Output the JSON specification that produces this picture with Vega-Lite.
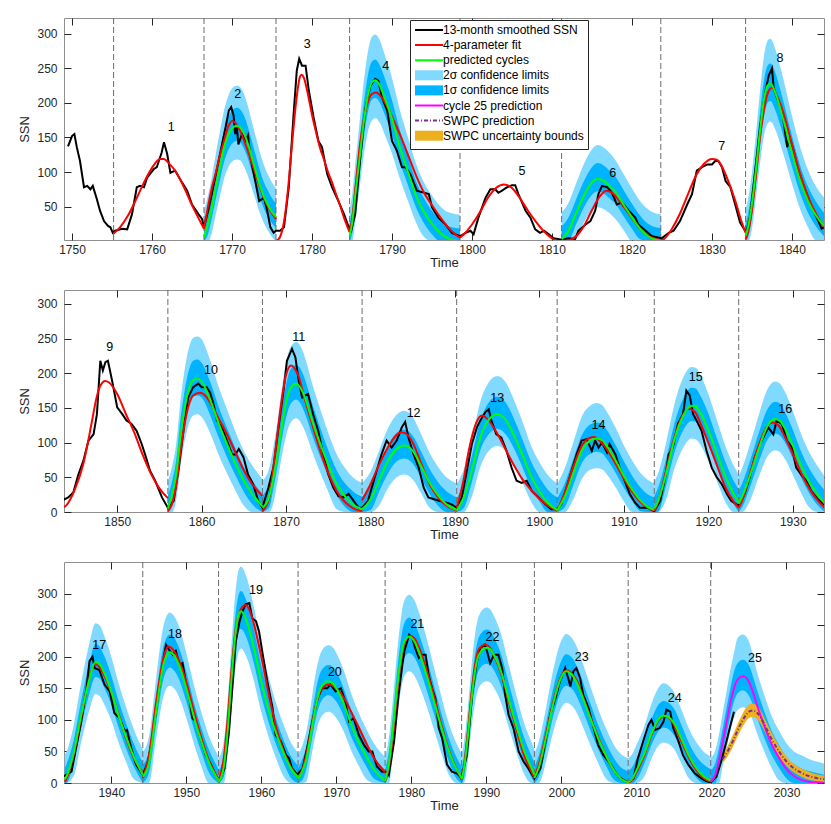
{
"$schema": "https://vega.github.io/schema/vega-lite/v6.json",
"padding": {"left": 18, "top": 17, "right": 9, "bottom": 5},
"spacing": 19,
"datasets": {
"bounds": [{"t":1755.2},{"t":1766.5},{"t":1775.5},{"t":1784.7},{"t":1798.5},{"t":1811.2},{"t":1823.6},{"t":1834.2},{"t":1856.0},{"t":1867.2},{"t":1879.0},{"t":1890.2},{"t":1902.1},{"t":1913.6},{"t":1923.6},{"t":1944.2},{"t":1954.3},{"t":1964.9},{"t":1976.5},{"t":1986.7},{"t":1996.4},{"t":2008.9},{"t":2019.9}],
"labels": [{"n":"1","t":1762.4,"v":165},{"n":"2","t":1770.7,"v":213},{"n":"3","t":1779.4,"v":285},{"n":"4","t":1789.2,"v":254},{"n":"5","t":1806.25,"v":101},{"n":"6","t":1817.6,"v":98},{"n":"7","t":1831.2,"v":138},{"n":"8","t":1838.5,"v":265},{"n":"9","t":1849.1,"v":238},{"n":"10","t":1861.1,"v":205},{"n":"11","t":1871.5,"v":252},{"n":"12","t":1885.1,"v":143},{"n":"13","t":1895.0,"v":165},{"n":"14","t":1907.0,"v":126},{"n":"15","t":1918.5,"v":194},{"n":"16","t":1929.1,"v":148},{"n":"17","t":1938.4,"v":218},{"n":"18","t":1948.5,"v":236},{"n":"19","t":1959.3,"v":305},{"n":"20","t":1969.8,"v":176},{"n":"21","t":1980.8,"v":252},{"n":"22","t":1990.8,"v":232},{"n":"23","t":2002.7,"v":199},{"n":"24","t":2015.1,"v":134},{"n":"25","t":2025.8,"v":198}],
"ssn": [{"t":1749.5,"v":137},{"t":1750,"v":152},{"t":1750.3,"v":155},{"t":1750.6,"v":136},{"t":1751,"v":116},{"t":1751.5,"v":78},{"t":1751.9,"v":80},{"t":1752.3,"v":75},{"t":1752.6,"v":80},{"t":1753.1,"v":61},{"t":1753.5,"v":44},{"t":1754,"v":29},{"t":1754.5,"v":22},{"t":1754.8,"v":20},{"t":1755.1,"v":12},{"t":1755.4,"v":15},{"t":1756.25,"v":18},{"t":1756.9,"v":17},{"t":1757.5,"v":39},{"t":1758.1,"v":78},{"t":1758.5,"v":80},{"t":1759,"v":78},{"t":1759.4,"v":92},{"t":1760.2,"v":104},{"t":1760.6,"v":107},{"t":1761.2,"v":128},{"t":1761.5,"v":143},{"t":1761.9,"v":126},{"t":1762.3,"v":99},{"t":1762.9,"v":102},{"t":1763.75,"v":85},{"t":1764.4,"v":73},{"t":1765,"v":53},{"t":1765.8,"v":39},{"t":1766.25,"v":32},{"t":1766.5,"v":20},{"t":1767.1,"v":48},{"t":1767.9,"v":92},{"t":1768.5,"v":126},{"t":1769.2,"v":165},{"t":1769.6,"v":189},{"t":1769.9,"v":194},{"t":1770.2,"v":182},{"t":1770.4,"v":155},{"t":1770.6,"v":165},{"t":1770.8,"v":140},{"t":1771.25,"v":155},{"t":1771.7,"v":145},{"t":1772,"v":153},{"t":1772.3,"v":121},{"t":1772.9,"v":87},{"t":1773.4,"v":58},{"t":1774,"v":63},{"t":1774.4,"v":44},{"t":1774.8,"v":20},{"t":1775.2,"v":12},{"t":1775.5,"v":15},{"t":1776,"v":15},{"t":1776.5,"v":20},{"t":1777.1,"v":78},{"t":1777.7,"v":184},{"t":1778.1,"v":247},{"t":1778.4,"v":264},{"t":1778.75,"v":254},{"t":1779.2,"v":254},{"t":1779.6,"v":218},{"t":1780.2,"v":179},{"t":1780.8,"v":145},{"t":1781.25,"v":136},{"t":1781.9,"v":97},{"t":1782.5,"v":78},{"t":1783.3,"v":58},{"t":1784,"v":39},{"t":1784.6,"v":20},{"t":1784.9,"v":15},{"t":1785.4,"v":39},{"t":1786,"v":116},{"t":1786.7,"v":194},{"t":1787.3,"v":225},{"t":1787.9,"v":235},{"t":1788.3,"v":232},{"t":1788.75,"v":208},{"t":1789.4,"v":189},{"t":1790,"v":145},{"t":1790.6,"v":131},{"t":1791.25,"v":107},{"t":1791.7,"v":107},{"t":1792.3,"v":97},{"t":1793.1,"v":73},{"t":1794.6,"v":68},{"t":1795,"v":49},{"t":1795.8,"v":34},{"t":1796.7,"v":24},{"t":1797.5,"v":12},{"t":1798.5,"v":7},{"t":1799.2,"v":12},{"t":1799.8,"v":15},{"t":1800.2,"v":10},{"t":1800.8,"v":34},{"t":1801.7,"v":63},{"t":1802.3,"v":75},{"t":1802.9,"v":75},{"t":1803.3,"v":70},{"t":1803.75,"v":73},{"t":1804.4,"v":78},{"t":1805,"v":81},{"t":1805.4,"v":81},{"t":1805.8,"v":68},{"t":1806.7,"v":44},{"t":1807.3,"v":34},{"t":1807.9,"v":17},{"t":1808.5,"v":12},{"t":1809,"v":15},{"t":1809.6,"v":10},{"t":1810.2,"v":4},{"t":1811.25,"v":2},{"t":1812.1,"v":4},{"t":1812.9,"v":3},{"t":1813.3,"v":15},{"t":1814.2,"v":24},{"t":1814.8,"v":29},{"t":1815.4,"v":44},{"t":1815.8,"v":68},{"t":1816.25,"v":80},{"t":1816.9,"v":78},{"t":1817.5,"v":70},{"t":1818.1,"v":53},{"t":1818.75,"v":56},{"t":1819.6,"v":44},{"t":1820.4,"v":34},{"t":1820.8,"v":24},{"t":1821.7,"v":15},{"t":1822.5,"v":7},{"t":1823.7,"v":4},{"t":1824.6,"v":12},{"t":1825.2,"v":15},{"t":1826,"v":29},{"t":1826.9,"v":53},{"t":1827.5,"v":68},{"t":1828.1,"v":102},{"t":1828.75,"v":107},{"t":1829.4,"v":111},{"t":1830,"v":111},{"t":1830.4,"v":116},{"t":1830.8,"v":116},{"t":1831.25,"v":107},{"t":1831.7,"v":87},{"t":1832.3,"v":78},{"t":1832.9,"v":53},{"t":1833.5,"v":27},{"t":1834.3,"v":12},{"t":1834.8,"v":39},{"t":1835.4,"v":102},{"t":1836,"v":165},{"t":1836.7,"v":218},{"t":1837.1,"v":240},{"t":1837.5,"v":250},{"t":1837.7,"v":223},{"t":1838.1,"v":208},{"t":1838.75,"v":189},{"t":1839.4,"v":136},{"t":1839.7,"v":150},{"t":1840.2,"v":131},{"t":1840.8,"v":102},{"t":1841.7,"v":73},{"t":1842.5,"v":49},{"t":1843.3,"v":29},{"t":1843.7,"v":18},{"t":1844.2,"v":21},{"t":1844.8,"v":28},{"t":1845.4,"v":54},{"t":1846,"v":74},{"t":1846.6,"v":103},{"t":1847.2,"v":112},{"t":1847.6,"v":141},{"t":1848,"v":218},{"t":1848.3,"v":204},{"t":1848.6,"v":216},{"t":1848.9,"v":218},{"t":1849.4,"v":189},{"t":1850,"v":151},{"t":1850.6,"v":141},{"t":1851.1,"v":132},{"t":1851.7,"v":127},{"t":1852.3,"v":117},{"t":1852.9,"v":98},{"t":1853.3,"v":83},{"t":1853.9,"v":59},{"t":1854.5,"v":45},{"t":1855.3,"v":21},{"t":1856,"v":6},{"t":1856.7,"v":16},{"t":1857.3,"v":64},{"t":1857.9,"v":122},{"t":1858.4,"v":165},{"t":1859,"v":180},{"t":1859.6,"v":185},{"t":1860,"v":180},{"t":1860.6,"v":180},{"t":1861,"v":172},{"t":1861.4,"v":156},{"t":1861.8,"v":132},{"t":1862.4,"v":122},{"t":1863,"v":103},{"t":1863.6,"v":83},{"t":1864,"v":83},{"t":1864.4,"v":91},{"t":1864.95,"v":79},{"t":1865.5,"v":54},{"t":1866.1,"v":40},{"t":1866.7,"v":16},{"t":1867.2,"v":6},{"t":1867.9,"v":35},{"t":1868.5,"v":64},{"t":1869.1,"v":122},{"t":1869.7,"v":175},{"t":1870.1,"v":218},{"t":1870.7,"v":235},{"t":1871.1,"v":223},{"t":1871.5,"v":189},{"t":1871.9,"v":165},{"t":1872.3,"v":168},{"t":1872.6,"v":170},{"t":1873.2,"v":141},{"t":1873.8,"v":117},{"t":1874.4,"v":83},{"t":1875,"v":54},{"t":1875.6,"v":35},{"t":1876.2,"v":23},{"t":1876.8,"v":21},{"t":1877.4,"v":26},{"t":1878,"v":16},{"t":1878.6,"v":6},{"t":1879,"v":6},{"t":1879.7,"v":16},{"t":1880.5,"v":50},{"t":1881.3,"v":83},{"t":1881.9,"v":103},{"t":1882.5,"v":93},{"t":1883.1,"v":103},{"t":1883.7,"v":122},{"t":1884.1,"v":130},{"t":1884.5,"v":107},{"t":1885.1,"v":83},{"t":1885.7,"v":64},{"t":1886.3,"v":35},{"t":1886.85,"v":21},{"t":1887.6,"v":18},{"t":1888.8,"v":14},{"t":1889.6,"v":11},{"t":1890.2,"v":6},{"t":1890.8,"v":21},{"t":1891.4,"v":59},{"t":1892,"v":98},{"t":1892.6,"v":122},{"t":1893,"v":132},{"t":1893.6,"v":144},{"t":1894,"v":148},{"t":1894.3,"v":132},{"t":1894.9,"v":112},{"t":1895.5,"v":107},{"t":1896.1,"v":88},{"t":1896.7,"v":64},{"t":1897.3,"v":45},{"t":1897.9,"v":42},{"t":1898.5,"v":45},{"t":1899.1,"v":30},{"t":1899.9,"v":21},{"t":1900.7,"v":11},{"t":1901.4,"v":4},{"t":1902.1,"v":4},{"t":1902.6,"v":11},{"t":1903.2,"v":35},{"t":1903.8,"v":59},{"t":1904.4,"v":83},{"t":1905,"v":103},{"t":1905.6,"v":105},{"t":1906.2,"v":88},{"t":1906.6,"v":103},{"t":1907,"v":93},{"t":1907.4,"v":100},{"t":1908,"v":86},{"t":1908.3,"v":98},{"t":1909,"v":83},{"t":1909.5,"v":64},{"t":1910.1,"v":45},{"t":1910.7,"v":26},{"t":1911.3,"v":14},{"t":1911.9,"v":6},{"t":1912.9,"v":6},{"t":1913.6,"v":1},{"t":1914.3,"v":16},{"t":1914.9,"v":50},{"t":1915.3,"v":83},{"t":1915.8,"v":93},{"t":1916.4,"v":127},{"t":1917,"v":141},{"t":1917.4,"v":175},{"t":1917.8,"v":168},{"t":1918.2,"v":141},{"t":1918.6,"v":132},{"t":1919.2,"v":117},{"t":1919.8,"v":88},{"t":1920.4,"v":64},{"t":1921,"v":50},{"t":1921.6,"v":40},{"t":1922.2,"v":26},{"t":1922.7,"v":16},{"t":1923.6,"v":9},{"t":1924.3,"v":26},{"t":1924.9,"v":50},{"t":1925.5,"v":79},{"t":1926.1,"v":98},{"t":1926.7,"v":112},{"t":1927.1,"v":122},{"t":1927.7,"v":112},{"t":1928.1,"v":132},{"t":1928.7,"v":127},{"t":1929.3,"v":103},{"t":1929.9,"v":93},{"t":1930.4,"v":64},{"t":1931,"v":54},{"t":1931.6,"v":45},{"t":1932.2,"v":30},{"t":1933,"v":18},{"t":1933.7,"v":11},{"t":1934.7,"v":18},{"t":1935.3,"v":55},{"t":1936,"v":97},{"t":1936.7,"v":150},{"t":1937.1,"v":193},{"t":1937.5,"v":200},{"t":1937.8,"v":182},{"t":1938.4,"v":179},{"t":1939.1,"v":156},{"t":1939.8,"v":145},{"t":1940.4,"v":111},{"t":1941.1,"v":103},{"t":1941.8,"v":82},{"t":1942.1,"v":84},{"t":1942.6,"v":58},{"t":1943.3,"v":29},{"t":1944.2,"v":13},{"t":1944.9,"v":34},{"t":1945.5,"v":74},{"t":1946.2,"v":134},{"t":1946.9,"v":193},{"t":1947.3,"v":219},{"t":1947.7,"v":211},{"t":1948.2,"v":203},{"t":1948.6,"v":209},{"t":1949.1,"v":187},{"t":1949.5,"v":190},{"t":1950,"v":156},{"t":1950.4,"v":134},{"t":1950.8,"v":103},{"t":1951.3,"v":97},{"t":1952,"v":66},{"t":1952.6,"v":44},{"t":1953.3,"v":29},{"t":1953.9,"v":13},{"t":1954.4,"v":3},{"t":1955.1,"v":23},{"t":1955.7,"v":82},{"t":1956.2,"v":161},{"t":1956.6,"v":224},{"t":1957.1,"v":256},{"t":1957.5,"v":272},{"t":1957.9,"v":283},{"t":1958.4,"v":285},{"t":1958.8,"v":261},{"t":1959.3,"v":256},{"t":1959.7,"v":240},{"t":1960.2,"v":203},{"t":1960.8,"v":161},{"t":1961.5,"v":119},{"t":1961.9,"v":76},{"t":1962.6,"v":66},{"t":1963.3,"v":44},{"t":1963.7,"v":39},{"t":1964.1,"v":23},{"t":1964.8,"v":13},{"t":1965.5,"v":23},{"t":1966.1,"v":55},{"t":1966.8,"v":97},{"t":1967.5,"v":134},{"t":1968.1,"v":150},{"t":1968.8,"v":150},{"t":1969.2,"v":156},{"t":1969.9,"v":145},{"t":1970.6,"v":150},{"t":1971.2,"v":129},{"t":1971.7,"v":97},{"t":1972.3,"v":103},{"t":1973,"v":76},{"t":1973.7,"v":60},{"t":1974.3,"v":50},{"t":1974.8,"v":50},{"t":1975.4,"v":26},{"t":1976.1,"v":18},{"t":1976.8,"v":18},{"t":1977,"v":13},{"t":1977.7,"v":66},{"t":1978.3,"v":140},{"t":1978.8,"v":187},{"t":1979.1,"v":210},{"t":1979.7,"v":235},{"t":1980.1,"v":230},{"t":1980.5,"v":214},{"t":1981,"v":198},{"t":1981.4,"v":203},{"t":1981.9,"v":203},{"t":1982.3,"v":171},{"t":1982.76,"v":150},{"t":1983.2,"v":134},{"t":1983.65,"v":87},{"t":1984.1,"v":71},{"t":1984.75,"v":29},{"t":1985.4,"v":18},{"t":1986.1,"v":15},{"t":1986.66,"v":8},{"t":1987.4,"v":44},{"t":1988.1,"v":140},{"t":1988.75,"v":193},{"t":1989.2,"v":214},{"t":1989.8,"v":219},{"t":1990.1,"v":208},{"t":1990.5,"v":190},{"t":1991,"v":203},{"t":1991.6,"v":203},{"t":1992.1,"v":182},{"t":1992.5,"v":140},{"t":1992.95,"v":108},{"t":1993.6,"v":87},{"t":1994.3,"v":50},{"t":1994.95,"v":34},{"t":1995.6,"v":23},{"t":1996.4,"v":7},{"t":1997.2,"v":23},{"t":1997.8,"v":60},{"t":1998.5,"v":108},{"t":1999.2,"v":134},{"t":1999.8,"v":161},{"t":2000.5,"v":182},{"t":2000.9,"v":166},{"t":2001.2,"v":153},{"t":2001.6,"v":177},{"t":2002,"v":182},{"t":2002.5,"v":166},{"t":2002.9,"v":140},{"t":2003.6,"v":119},{"t":2004.3,"v":87},{"t":2004.9,"v":60},{"t":2005.6,"v":44},{"t":2006.3,"v":34},{"t":2006.9,"v":23},{"t":2007.6,"v":10},{"t":2008.25,"v":5},{"t":2008.9,"v":1},{"t":2009.6,"v":7},{"t":2010.2,"v":39},{"t":2010.9,"v":66},{"t":2011.6,"v":92},{"t":2012,"v":100},{"t":2012.5,"v":84},{"t":2013.1,"v":87},{"t":2013.6,"v":97},{"t":2014,"v":116},{"t":2014.5,"v":113},{"t":2014.9,"v":87},{"t":2015.6,"v":66},{"t":2016.2,"v":44},{"t":2016.9,"v":29},{"t":2017.8,"v":15},{"t":2018.7,"v":7},{"t":2019.3,"v":3},{"t":2019.9,"v":1},{"t":2020.66,"v":10},{"t":2021.3,"v":34},{"t":2022,"v":66},{"t":2022.65,"v":97},{"t":2023,"v":113}],
"fit": [
{"c":1,"t":1755.2,"v":11},{"c":1,"t":1756,"v":20},{"c":1,"t":1757,"v":37},{"c":1,"t":1758,"v":60},{"c":1,"t":1759,"v":85},{"c":1,"t":1760,"v":106},{"c":1,"t":1761,"v":119},{"c":1,"t":1761.5,"v":119},{"c":1,"t":1762,"v":114},{"c":1,"t":1763,"v":100},{"c":1,"t":1764,"v":78},{"c":1,"t":1765,"v":52},{"c":1,"t":1766,"v":29},{"c":1,"t":1766.5,"v":18},
{"c":2,"t":1766.5,"v":18},{"c":2,"t":1767,"v":50},{"c":2,"t":1767.5,"v":78},{"c":2,"t":1768,"v":100},{"c":2,"t":1768.5,"v":125},{"c":2,"t":1769,"v":145},{"c":2,"t":1769.5,"v":165},{"c":2,"t":1770,"v":174},{"c":2,"t":1770.5,"v":170},{"c":2,"t":1771,"v":160},{"c":2,"t":1772,"v":130},{"c":2,"t":1773,"v":95},{"c":2,"t":1774,"v":62},{"c":2,"t":1775,"v":40},{"c":2,"t":1775.5,"v":32},
{"c":3,"t":1775.5,"v":0},{"c":3,"t":1776,"v":6},{"c":3,"t":1776.5,"v":28},{"c":3,"t":1777,"v":75},{"c":3,"t":1777.5,"v":140},{"c":3,"t":1778,"v":200},{"c":3,"t":1778.5,"v":238},{"c":3,"t":1778.7,"v":241},{"c":3,"t":1779,"v":236},{"c":3,"t":1779.5,"v":212},{"c":3,"t":1780,"v":183},{"c":3,"t":1780.5,"v":158},{"c":3,"t":1781,"v":135},{"c":3,"t":1781.5,"v":118},{"c":3,"t":1782,"v":100},{"c":3,"t":1782.5,"v":85},{"c":3,"t":1783,"v":68},{"c":3,"t":1783.5,"v":52},{"c":3,"t":1784,"v":34},{"c":3,"t":1784.7,"v":13},
{"c":4,"t":1784.7,"v":14},{"c":4,"t":1785,"v":30},{"c":4,"t":1785.5,"v":85},{"c":4,"t":1786,"v":140},{"c":4,"t":1786.5,"v":178},{"c":4,"t":1787,"v":202},{"c":4,"t":1787.5,"v":213},{"c":4,"t":1788,"v":215},{"c":4,"t":1789,"v":203},{"c":4,"t":1790,"v":180},{"c":4,"t":1791,"v":154},{"c":4,"t":1792,"v":125},{"c":4,"t":1793,"v":95},{"c":4,"t":1794,"v":70},{"c":4,"t":1795,"v":52},{"c":4,"t":1796,"v":35},{"c":4,"t":1797,"v":20},{"c":4,"t":1798,"v":9},{"c":4,"t":1798.5,"v":5},
{"c":5,"t":1798.5,"v":5},{"c":5,"t":1799,"v":10},{"c":5,"t":1800,"v":24},{"c":5,"t":1801,"v":42},{"c":5,"t":1802,"v":63},{"c":5,"t":1803,"v":77},{"c":5,"t":1804,"v":82},{"c":5,"t":1805,"v":77},{"c":5,"t":1806,"v":62},{"c":5,"t":1807,"v":44},{"c":5,"t":1808,"v":28},{"c":5,"t":1809,"v":14},{"c":5,"t":1810,"v":4},{"c":5,"t":1810.5,"v":1},{"c":5,"t":1811.2,"v":0},
{"c":6,"t":1811.2,"v":0},{"c":6,"t":1812,"v":1},{"c":6,"t":1813,"v":7},{"c":6,"t":1814,"v":22},{"c":6,"t":1815,"v":45},{"c":6,"t":1816,"v":65},{"c":6,"t":1816.8,"v":73},{"c":6,"t":1817.5,"v":70},{"c":6,"t":1818,"v":64},{"c":6,"t":1819,"v":49},{"c":6,"t":1820,"v":33},{"c":6,"t":1821,"v":18},{"c":6,"t":1822,"v":8},{"c":6,"t":1823,"v":3},{"c":6,"t":1823.6,"v":1},
{"c":7,"t":1823.6,"v":0},{"c":7,"t":1824,"v":3},{"c":7,"t":1825,"v":18},{"c":7,"t":1826,"v":40},{"c":7,"t":1827,"v":68},{"c":7,"t":1828,"v":95},{"c":7,"t":1829,"v":112},{"c":7,"t":1830,"v":119},{"c":7,"t":1830.6,"v":118},{"c":7,"t":1831,"v":113},{"c":7,"t":1832,"v":88},{"c":7,"t":1833,"v":55},{"c":7,"t":1833.7,"v":28},{"c":7,"t":1834.2,"v":12},
{"c":8,"t":1834.2,"v":3},{"c":8,"t":1834.5,"v":12},{"c":8,"t":1835,"v":45},{"c":8,"t":1835.5,"v":95},{"c":8,"t":1836,"v":150},{"c":8,"t":1836.5,"v":190},{"c":8,"t":1837,"v":215},{"c":8,"t":1837.5,"v":222},{"c":8,"t":1838,"v":213},{"c":8,"t":1838.5,"v":200},{"c":8,"t":1839,"v":183},{"c":8,"t":1840,"v":140},{"c":8,"t":1841,"v":98},{"c":8,"t":1842,"v":64},{"c":8,"t":1843,"v":40},{"c":8,"t":1844,"v":20},
{"c":9,"t":1843.7,"v":7},{"c":9,"t":1844,"v":10},{"c":9,"t":1845,"v":33},{"c":9,"t":1846,"v":70},{"c":9,"t":1847,"v":130},{"c":9,"t":1847.5,"v":162},{"c":9,"t":1848,"v":182},{"c":9,"t":1848.6,"v":189},{"c":9,"t":1849,"v":187},{"c":9,"t":1850,"v":170},{"c":9,"t":1851,"v":142},{"c":9,"t":1852,"v":115},{"c":9,"t":1853,"v":83},{"c":9,"t":1854,"v":55},{"c":9,"t":1855,"v":34},{"c":9,"t":1856,"v":20},
{"c":10,"t":1856,"v":1},{"c":10,"t":1856.5,"v":12},{"c":10,"t":1857,"v":40},{"c":10,"t":1857.5,"v":88},{"c":10,"t":1858,"v":128},{"c":10,"t":1858.5,"v":155},{"c":10,"t":1859,"v":168},{"c":10,"t":1859.8,"v":172},{"c":10,"t":1860.5,"v":167},{"c":10,"t":1861,"v":158},{"c":10,"t":1862,"v":135},{"c":10,"t":1863,"v":112},{"c":10,"t":1864,"v":86},{"c":10,"t":1865,"v":60},{"c":10,"t":1866,"v":40},{"c":10,"t":1867.2,"v":23},
{"c":11,"t":1867.2,"v":1},{"c":11,"t":1868,"v":20},{"c":11,"t":1868.5,"v":65},{"c":11,"t":1869,"v":115},{"c":11,"t":1869.5,"v":163},{"c":11,"t":1870,"v":198},{"c":11,"t":1870.6,"v":211},{"c":11,"t":1871,"v":207},{"c":11,"t":1871.5,"v":195},{"c":11,"t":1872,"v":172},{"c":11,"t":1873,"v":130},{"c":11,"t":1874,"v":90},{"c":11,"t":1875,"v":56},{"c":11,"t":1876,"v":30},{"c":11,"t":1877,"v":14},{"c":11,"t":1878,"v":5},{"c":11,"t":1879,"v":1},
{"c":12,"t":1879,"v":17},{"c":12,"t":1880,"v":40},{"c":12,"t":1881,"v":68},{"c":12,"t":1882,"v":92},{"c":12,"t":1883,"v":110},{"c":12,"t":1883.6,"v":115},{"c":12,"t":1884.2,"v":113},{"c":12,"t":1885,"v":100},{"c":12,"t":1886,"v":70},{"c":12,"t":1887,"v":40},{"c":12,"t":1888,"v":21},{"c":12,"t":1889,"v":9},{"c":12,"t":1890.2,"v":2},
{"c":13,"t":1890.2,"v":6},{"c":13,"t":1891,"v":45},{"c":13,"t":1891.5,"v":80},{"c":13,"t":1892,"v":108},{"c":13,"t":1892.5,"v":128},{"c":13,"t":1893.2,"v":139},{"c":13,"t":1894,"v":132},{"c":13,"t":1895,"v":113},{"c":13,"t":1896,"v":90},{"c":13,"t":1897,"v":67},{"c":13,"t":1898,"v":47},{"c":13,"t":1899,"v":32},{"c":13,"t":1900,"v":19},{"c":13,"t":1901,"v":9},{"c":13,"t":1902.1,"v":2},
{"c":14,"t":1902.1,"v":2},{"c":14,"t":1903,"v":28},{"c":14,"t":1904,"v":65},{"c":14,"t":1905,"v":95},{"c":14,"t":1906,"v":107},{"c":14,"t":1906.5,"v":108},{"c":14,"t":1907,"v":104},{"c":14,"t":1908,"v":90},{"c":14,"t":1909,"v":70},{"c":14,"t":1910,"v":48},{"c":14,"t":1911,"v":29},{"c":14,"t":1912,"v":14},{"c":14,"t":1913,"v":5},{"c":14,"t":1913.6,"v":2},
{"c":15,"t":1913.6,"v":1},{"c":15,"t":1914,"v":12},{"c":15,"t":1915,"v":60},{"c":15,"t":1916,"v":108},{"c":15,"t":1917,"v":140},{"c":15,"t":1917.7,"v":149},{"c":15,"t":1918.5,"v":143},{"c":15,"t":1919,"v":130},{"c":15,"t":1920,"v":100},{"c":15,"t":1921,"v":68},{"c":15,"t":1922,"v":36},{"c":15,"t":1923,"v":15},{"c":15,"t":1923.6,"v":6},
{"c":16,"t":1923.6,"v":6},{"c":16,"t":1924,"v":16},{"c":16,"t":1925,"v":58},{"c":16,"t":1926,"v":97},{"c":16,"t":1927,"v":124},{"c":16,"t":1927.6,"v":129},{"c":16,"t":1928.3,"v":125},{"c":16,"t":1929,"v":110},{"c":16,"t":1930,"v":84},{"c":16,"t":1931,"v":56},{"c":16,"t":1932,"v":33},{"c":16,"t":1933,"v":16},{"c":16,"t":1933.8,"v":6},
{"c":17,"t":1933.8,"v":2},{"c":17,"t":1934,"v":6},{"c":17,"t":1935,"v":45},{"c":17,"t":1936,"v":105},{"c":17,"t":1937,"v":162},{"c":17,"t":1937.8,"v":188},{"c":17,"t":1938.5,"v":182},{"c":17,"t":1939,"v":172},{"c":17,"t":1940,"v":143},{"c":17,"t":1941,"v":108},{"c":17,"t":1942,"v":70},{"c":17,"t":1943,"v":40},{"c":17,"t":1944.2,"v":15},
{"c":18,"t":1944.2,"v":8},{"c":18,"t":1945,"v":42},{"c":18,"t":1946,"v":130},{"c":18,"t":1947,"v":200},{"c":18,"t":1947.6,"v":216},{"c":18,"t":1948.3,"v":210},{"c":18,"t":1949,"v":195},{"c":18,"t":1950,"v":160},{"c":18,"t":1951,"v":115},{"c":18,"t":1952,"v":72},{"c":18,"t":1953,"v":36},{"c":18,"t":1954.3,"v":5},
{"c":19,"t":1954.3,"v":3},{"c":19,"t":1955,"v":40},{"c":19,"t":1955.5,"v":100},{"c":19,"t":1956,"v":175},{"c":19,"t":1956.5,"v":235},{"c":19,"t":1957,"v":268},{"c":19,"t":1957.9,"v":282},{"c":19,"t":1958.5,"v":272},{"c":19,"t":1959,"v":252},{"c":19,"t":1960,"v":200},{"c":19,"t":1961,"v":140},{"c":19,"t":1962,"v":88},{"c":19,"t":1963,"v":50},{"c":19,"t":1964,"v":24},{"c":19,"t":1964.9,"v":9},
{"c":20,"t":1964.9,"v":6},{"c":20,"t":1965.5,"v":22},{"c":20,"t":1966,"v":45},{"c":20,"t":1966.5,"v":76},{"c":20,"t":1967,"v":108},{"c":20,"t":1967.5,"v":133},{"c":20,"t":1968,"v":148},{"c":20,"t":1969,"v":156},{"c":20,"t":1970,"v":150},{"c":20,"t":1971,"v":135},{"c":20,"t":1972,"v":112},{"c":20,"t":1973,"v":88},{"c":20,"t":1974,"v":63},{"c":20,"t":1975,"v":40},{"c":20,"t":1976.5,"v":17},
{"c":21,"t":1976.5,"v":2},{"c":21,"t":1977,"v":25},{"c":21,"t":1977.5,"v":70},{"c":21,"t":1978,"v":130},{"c":21,"t":1978.5,"v":185},{"c":21,"t":1979,"v":218},{"c":21,"t":1979.9,"v":233},{"c":21,"t":1980.5,"v":228},{"c":21,"t":1981,"v":215},{"c":21,"t":1982,"v":180},{"c":21,"t":1983,"v":138},{"c":21,"t":1984,"v":92},{"c":21,"t":1985,"v":52},{"c":21,"t":1986,"v":22},{"c":21,"t":1986.7,"v":6},
{"c":22,"t":1986.7,"v":5},{"c":22,"t":1987,"v":25},{"c":22,"t":1987.5,"v":78},{"c":22,"t":1988,"v":140},{"c":22,"t":1988.5,"v":188},{"c":22,"t":1989,"v":212},{"c":22,"t":1989.9,"v":219},{"c":22,"t":1990.5,"v":214},{"c":22,"t":1991,"v":202},{"c":22,"t":1992,"v":172},{"c":22,"t":1993,"v":128},{"c":22,"t":1994,"v":85},{"c":22,"t":1995,"v":45},{"c":22,"t":1996,"v":18},{"c":22,"t":1996.4,"v":8},
{"c":23,"t":1996.4,"v":10},{"c":23,"t":1997,"v":30},{"c":23,"t":1998,"v":80},{"c":23,"t":1999,"v":133},{"c":23,"t":2000,"v":170},{"c":23,"t":2000.7,"v":178},{"c":23,"t":2001.5,"v":172},{"c":23,"t":2002,"v":163},{"c":23,"t":2003,"v":133},{"c":23,"t":2004,"v":100},{"c":23,"t":2005,"v":70},{"c":23,"t":2006,"v":42},{"c":23,"t":2007,"v":20},{"c":23,"t":2008,"v":6},{"c":23,"t":2008.9,"v":1},
{"c":24,"t":2008.9,"v":0},{"c":24,"t":2009.5,"v":6},{"c":24,"t":2010,"v":17},{"c":24,"t":2011,"v":42},{"c":24,"t":2012,"v":76},{"c":24,"t":2013,"v":100},{"c":24,"t":2013.7,"v":106},{"c":24,"t":2014.5,"v":101},{"c":24,"t":2015,"v":92},{"c":24,"t":2016,"v":66},{"c":24,"t":2017,"v":40},{"c":24,"t":2018,"v":20},{"c":24,"t":2019,"v":7},{"c":24,"t":2019.9,"v":2}],
"pred": [
{"c":2,"t":1766.5,"g":6,"l2":0,"l1":0,"u1":24,"u2":45},{"c":2,"t":1767,"g":25,"l2":0,"l1":10,"u1":44,"u2":66},{"c":2,"t":1767.5,"g":50,"l2":13,"l1":34,"u1":71,"u2":94},{"c":2,"t":1768,"g":80,"l2":40,"l1":62,"u1":102,"u2":128},{"c":2,"t":1768.5,"g":108,"l2":65,"l1":89,"u1":131,"u2":159},{"c":2,"t":1769,"g":135,"l2":90,"l1":114,"u1":160,"u2":189},{"c":2,"t":1769.5,"g":153,"l2":106,"l1":131,"u1":179,"u2":209},{"c":2,"t":1770,"g":163,"l2":115,"l1":141,"u1":189,"u2":221},{"c":2,"t":1770.6,"g":167,"l2":118,"l1":145,"u1":193,"u2":225},{"c":2,"t":1771,"g":165,"l2":117,"l1":143,"u1":191,"u2":223},{"c":2,"t":1771.5,"g":156,"l2":108,"l1":134,"u1":182,"u2":213},{"c":2,"t":1772,"g":140,"l2":94,"l1":119,"u1":165,"u2":195},{"c":2,"t":1772.5,"g":120,"l2":76,"l1":100,"u1":144,"u2":172},{"c":2,"t":1773,"g":100,"l2":58,"l1":81,"u1":123,"u2":150},{"c":2,"t":1773.5,"g":80,"l2":40,"l1":62,"u1":102,"u2":128},{"c":2,"t":1774,"g":64,"l2":26,"l1":47,"u1":85,"u2":110},{"c":2,"t":1774.5,"g":52,"l2":15,"l1":35,"u1":73,"u2":96},{"c":2,"t":1775,"g":42,"l2":6,"l1":26,"u1":62,"u2":85},{"c":2,"t":1775.5,"g":35,"l2":0,"l1":19,"u1":55,"u2":77},
{"c":4,"t":1784.7,"g":7,"l2":0,"l1":0,"u1":25,"u2":46},{"c":4,"t":1785,"g":25,"l2":0,"l1":10,"u1":44,"u2":66},{"c":4,"t":1785.5,"g":75,"l2":36,"l1":57,"u1":97,"u2":122},{"c":4,"t":1786,"g":125,"l2":81,"l1":105,"u1":149,"u2":178},{"c":4,"t":1786.5,"g":175,"l2":126,"l1":152,"u1":202,"u2":234},{"c":4,"t":1787,"g":212,"l2":159,"l1":187,"u1":241,"u2":275},{"c":4,"t":1787.5,"g":230,"l2":175,"l1":205,"u1":260,"u2":296},{"c":4,"t":1787.9,"g":233,"l2":178,"l1":207,"u1":263,"u2":299},{"c":4,"t":1788.5,"g":225,"l2":171,"l1":200,"u1":254,"u2":290},{"c":4,"t":1789,"g":210,"l2":157,"l1":186,"u1":239,"u2":273},{"c":4,"t":1790,"g":177,"l2":127,"l1":154,"u1":204,"u2":236},{"c":4,"t":1791,"g":135,"l2":90,"l1":114,"u1":160,"u2":189},{"c":4,"t":1792,"g":100,"l2":58,"l1":81,"u1":123,"u2":150},{"c":4,"t":1793,"g":66,"l2":27,"l1":49,"u1":87,"u2":112},{"c":4,"t":1794,"g":42,"l2":6,"l1":26,"u1":62,"u2":85},{"c":4,"t":1795,"g":25,"l2":0,"l1":10,"u1":44,"u2":66},{"c":4,"t":1796,"g":12,"l2":0,"l1":0,"u1":31,"u2":51},{"c":4,"t":1797,"g":4,"l2":0,"l1":0,"u1":22,"u2":42},{"c":4,"t":1798,"g":1,"l2":0,"l1":0,"u1":19,"u2":39},{"c":4,"t":1798.5,"g":0,"l2":0,"l1":0,"u1":18,"u2":38},
{"c":6,"t":1811.2,"g":3,"l2":0,"l1":0,"u1":21,"u2":41},{"c":6,"t":1812,"g":14,"l2":0,"l1":0,"u1":33,"u2":54},{"c":6,"t":1813,"g":40,"l2":4,"l1":24,"u1":60,"u2":83},{"c":6,"t":1814,"g":66,"l2":27,"l1":49,"u1":87,"u2":112},{"c":6,"t":1815,"g":85,"l2":45,"l1":67,"u1":107,"u2":133},{"c":6,"t":1815.7,"g":90,"l2":49,"l1":72,"u1":113,"u2":139},{"c":6,"t":1816.5,"g":87,"l2":46,"l1":69,"u1":109,"u2":135},{"c":6,"t":1817,"g":82,"l2":42,"l1":64,"u1":104,"u2":130},{"c":6,"t":1818,"g":70,"l2":31,"l1":53,"u1":92,"u2":116},{"c":6,"t":1819,"g":52,"l2":15,"l1":35,"u1":73,"u2":96},{"c":6,"t":1820,"g":34,"l2":0,"l1":18,"u1":54,"u2":76},{"c":6,"t":1821,"g":18,"l2":0,"l1":3,"u1":37,"u2":58},{"c":6,"t":1822,"g":7,"l2":0,"l1":0,"u1":25,"u2":46},{"c":6,"t":1823,"g":2,"l2":0,"l1":0,"u1":20,"u2":40},{"c":6,"t":1823.6,"g":1,"l2":0,"l1":0,"u1":19,"u2":39},
{"c":8,"t":1834.2,"g":8,"l2":0,"l1":0,"u1":26,"u2":47},{"c":8,"t":1834.5,"g":20,"l2":0,"l1":5,"u1":39,"u2":60},{"c":8,"t":1835,"g":55,"l2":18,"l1":38,"u1":76,"u2":100},{"c":8,"t":1835.5,"g":105,"l2":63,"l1":86,"u1":128,"u2":156},{"c":8,"t":1836,"g":160,"l2":112,"l1":138,"u1":186,"u2":217},{"c":8,"t":1836.5,"g":205,"l2":153,"l1":181,"u1":233,"u2":268},{"c":8,"t":1837,"g":226,"l2":171,"l1":201,"u1":255,"u2":291},{"c":8,"t":1837.3,"g":228,"l2":173,"l1":203,"u1":257,"u2":293},{"c":8,"t":1838,"g":212,"l2":159,"l1":187,"u1":241,"u2":275},{"c":8,"t":1838.5,"g":193,"l2":142,"l1":169,"u1":221,"u2":254},{"c":8,"t":1839,"g":172,"l2":123,"l1":149,"u1":199,"u2":231},{"c":8,"t":1840,"g":128,"l2":83,"l1":108,"u1":152,"u2":181},{"c":8,"t":1841,"g":88,"l2":47,"l1":70,"u1":110,"u2":137},{"c":8,"t":1842,"g":58,"l2":20,"l1":41,"u1":79,"u2":103},{"c":8,"t":1843,"g":37,"l2":1,"l1":21,"u1":57,"u2":79},{"c":8,"t":1844,"g":22,"l2":0,"l1":7,"u1":41,"u2":63},
{"c":10,"t":1856,"g":5,"l2":0,"l1":0,"u1":23,"u2":44},{"c":10,"t":1856.5,"g":25,"l2":0,"l1":10,"u1":44,"u2":66},{"c":10,"t":1857,"g":55,"l2":18,"l1":38,"u1":76,"u2":100},{"c":10,"t":1857.5,"g":110,"l2":67,"l1":91,"u1":134,"u2":161},{"c":10,"t":1858,"g":150,"l2":103,"l1":129,"u1":176,"u2":206},{"c":10,"t":1858.5,"g":178,"l2":128,"l1":155,"u1":205,"u2":237},{"c":10,"t":1859,"g":190,"l2":139,"l1":167,"u1":218,"u2":251},{"c":10,"t":1859.5,"g":192,"l2":141,"l1":168,"u1":220,"u2":253},{"c":10,"t":1860,"g":188,"l2":137,"l1":165,"u1":215,"u2":249},{"c":10,"t":1861,"g":162,"l2":114,"l1":140,"u1":188,"u2":219},{"c":10,"t":1862,"g":128,"l2":83,"l1":108,"u1":152,"u2":181},{"c":10,"t":1863,"g":98,"l2":56,"l1":79,"u1":121,"u2":148},{"c":10,"t":1864,"g":70,"l2":31,"l1":53,"u1":92,"u2":116},{"c":10,"t":1865,"g":45,"l2":9,"l1":29,"u1":65,"u2":88},{"c":10,"t":1866,"g":26,"l2":0,"l1":11,"u1":45,"u2":67},{"c":10,"t":1867.2,"g":8,"l2":0,"l1":0,"u1":26,"u2":47},
{"c":11,"t":1867.2,"g":6,"l2":0,"l1":0,"u1":24,"u2":45},{"c":11,"t":1868,"g":22,"l2":0,"l1":7,"u1":41,"u2":63},{"c":11,"t":1868.5,"g":50,"l2":13,"l1":34,"u1":71,"u2":94},{"c":11,"t":1869,"g":85,"l2":45,"l1":67,"u1":107,"u2":133},{"c":11,"t":1869.5,"g":125,"l2":81,"l1":105,"u1":149,"u2":178},{"c":11,"t":1870,"g":158,"l2":110,"l1":136,"u1":184,"u2":215},{"c":11,"t":1870.5,"g":178,"l2":128,"l1":155,"u1":205,"u2":237},{"c":11,"t":1871.2,"g":185,"l2":135,"l1":162,"u1":212,"u2":245},{"c":11,"t":1872,"g":172,"l2":123,"l1":149,"u1":199,"u2":231},{"c":11,"t":1872.5,"g":155,"l2":108,"l1":133,"u1":181,"u2":212},{"c":11,"t":1873,"g":135,"l2":90,"l1":114,"u1":160,"u2":189},{"c":11,"t":1874,"g":100,"l2":58,"l1":81,"u1":123,"u2":150},{"c":11,"t":1875,"g":68,"l2":29,"l1":51,"u1":89,"u2":114},{"c":11,"t":1876,"g":40,"l2":4,"l1":24,"u1":60,"u2":83},{"c":11,"t":1877,"g":22,"l2":0,"l1":7,"u1":41,"u2":63},{"c":11,"t":1878,"g":10,"l2":0,"l1":0,"u1":29,"u2":49},{"c":11,"t":1879,"g":4,"l2":0,"l1":0,"u1":22,"u2":42},
{"c":12,"t":1879,"g":4,"l2":0,"l1":0,"u1":22,"u2":42},{"c":12,"t":1880,"g":18,"l2":0,"l1":3,"u1":37,"u2":58},{"c":12,"t":1881,"g":45,"l2":9,"l1":29,"u1":65,"u2":88},{"c":12,"t":1882,"g":72,"l2":33,"l1":54,"u1":94,"u2":119},{"c":12,"t":1883,"g":90,"l2":49,"l1":72,"u1":113,"u2":139},{"c":12,"t":1884,"g":96,"l2":54,"l1":77,"u1":119,"u2":146},{"c":12,"t":1885,"g":88,"l2":47,"l1":70,"u1":110,"u2":137},{"c":12,"t":1886,"g":66,"l2":27,"l1":49,"u1":87,"u2":112},{"c":12,"t":1887,"g":42,"l2":6,"l1":26,"u1":62,"u2":85},{"c":12,"t":1888,"g":24,"l2":0,"l1":9,"u1":43,"u2":65},{"c":12,"t":1889,"g":11,"l2":0,"l1":0,"u1":30,"u2":50},{"c":12,"t":1890.2,"g":3,"l2":0,"l1":0,"u1":21,"u2":41},
{"c":13,"t":1890.2,"g":2,"l2":0,"l1":0,"u1":20,"u2":40},{"c":13,"t":1891,"g":20,"l2":0,"l1":5,"u1":39,"u2":60},{"c":13,"t":1892,"g":60,"l2":22,"l1":43,"u1":81,"u2":105},{"c":13,"t":1893,"g":108,"l2":65,"l1":89,"u1":131,"u2":159},{"c":13,"t":1894,"g":133,"l2":88,"l1":112,"u1":158,"u2":187},{"c":13,"t":1895,"g":141,"l2":95,"l1":120,"u1":166,"u2":196},{"c":13,"t":1896,"g":133,"l2":88,"l1":112,"u1":158,"u2":187},{"c":13,"t":1897,"g":110,"l2":67,"l1":91,"u1":134,"u2":161},{"c":13,"t":1898,"g":82,"l2":42,"l1":64,"u1":104,"u2":130},{"c":13,"t":1899,"g":52,"l2":15,"l1":35,"u1":73,"u2":96},{"c":13,"t":1900,"g":30,"l2":0,"l1":15,"u1":50,"u2":72},{"c":13,"t":1901,"g":13,"l2":0,"l1":0,"u1":32,"u2":53},{"c":13,"t":1902.1,"g":3,"l2":0,"l1":0,"u1":21,"u2":41},
{"c":14,"t":1902.1,"g":2,"l2":0,"l1":0,"u1":20,"u2":40},{"c":14,"t":1903,"g":22,"l2":0,"l1":7,"u1":41,"u2":63},{"c":14,"t":1904,"g":55,"l2":18,"l1":38,"u1":76,"u2":100},{"c":14,"t":1905,"g":88,"l2":47,"l1":70,"u1":110,"u2":137},{"c":14,"t":1906,"g":103,"l2":61,"l1":84,"u1":126,"u2":153},{"c":14,"t":1906.8,"g":106,"l2":63,"l1":87,"u1":129,"u2":157},{"c":14,"t":1907.5,"g":103,"l2":61,"l1":84,"u1":126,"u2":153},{"c":14,"t":1908,"g":95,"l2":54,"l1":76,"u1":118,"u2":144},{"c":14,"t":1909,"g":75,"l2":36,"l1":57,"u1":97,"u2":122},{"c":14,"t":1910,"g":52,"l2":15,"l1":35,"u1":73,"u2":96},{"c":14,"t":1911,"g":32,"l2":0,"l1":16,"u1":52,"u2":74},{"c":14,"t":1912,"g":16,"l2":0,"l1":1,"u1":35,"u2":56},{"c":14,"t":1913,"g":6,"l2":0,"l1":0,"u1":24,"u2":45},{"c":14,"t":1913.6,"g":3,"l2":0,"l1":0,"u1":21,"u2":41},
{"c":15,"t":1913.6,"g":5,"l2":0,"l1":0,"u1":23,"u2":44},{"c":15,"t":1914,"g":14,"l2":0,"l1":0,"u1":33,"u2":54},{"c":15,"t":1915,"g":55,"l2":18,"l1":38,"u1":76,"u2":100},{"c":15,"t":1916,"g":105,"l2":63,"l1":86,"u1":128,"u2":156},{"c":15,"t":1917,"g":138,"l2":92,"l1":117,"u1":163,"u2":193},{"c":15,"t":1918,"g":153,"l2":106,"l1":131,"u1":179,"u2":209},{"c":15,"t":1918.5,"g":152,"l2":105,"l1":130,"u1":178,"u2":208},{"c":15,"t":1919,"g":144,"l2":98,"l1":123,"u1":169,"u2":199},{"c":15,"t":1920,"g":118,"l2":74,"l1":98,"u1":142,"u2":170},{"c":15,"t":1921,"g":85,"l2":45,"l1":67,"u1":107,"u2":133},{"c":15,"t":1922,"g":52,"l2":15,"l1":35,"u1":73,"u2":96},{"c":15,"t":1923,"g":26,"l2":0,"l1":11,"u1":45,"u2":67},{"c":15,"t":1923.6,"g":14,"l2":0,"l1":0,"u1":33,"u2":54},
{"c":16,"t":1923.6,"g":12,"l2":0,"l1":0,"u1":31,"u2":51},{"c":16,"t":1924,"g":22,"l2":0,"l1":7,"u1":41,"u2":63},{"c":16,"t":1925,"g":55,"l2":18,"l1":38,"u1":76,"u2":100},{"c":16,"t":1926,"g":92,"l2":51,"l1":73,"u1":115,"u2":141},{"c":16,"t":1927,"g":124,"l2":80,"l1":104,"u1":148,"u2":177},{"c":16,"t":1927.9,"g":134,"l2":89,"l1":113,"u1":159,"u2":188},{"c":16,"t":1928.5,"g":131,"l2":86,"l1":110,"u1":156,"u2":185},{"c":16,"t":1929,"g":122,"l2":78,"l1":102,"u1":146,"u2":175},{"c":16,"t":1930,"g":96,"l2":54,"l1":77,"u1":119,"u2":146},{"c":16,"t":1931,"g":66,"l2":27,"l1":49,"u1":87,"u2":112},{"c":16,"t":1932,"g":42,"l2":6,"l1":26,"u1":62,"u2":85},{"c":16,"t":1933,"g":24,"l2":0,"l1":9,"u1":43,"u2":65},{"c":16,"t":1933.8,"g":12,"l2":0,"l1":0,"u1":31,"u2":51},
{"c":17,"t":1933.8,"g":6,"l2":0,"l1":0,"u1":24,"u2":45},{"c":17,"t":1934,"g":10,"l2":0,"l1":0,"u1":29,"u2":49},{"c":17,"t":1935,"g":48,"l2":11,"l1":32,"u1":68,"u2":92},{"c":17,"t":1936,"g":108,"l2":65,"l1":89,"u1":131,"u2":159},{"c":17,"t":1937,"g":160,"l2":112,"l1":138,"u1":186,"u2":217},{"c":17,"t":1937.9,"g":192,"l2":141,"l1":168,"u1":220,"u2":253},{"c":17,"t":1938.5,"g":188,"l2":137,"l1":165,"u1":215,"u2":249},{"c":17,"t":1939,"g":176,"l2":126,"l1":153,"u1":203,"u2":235},{"c":17,"t":1940,"g":145,"l2":99,"l1":124,"u1":170,"u2":200},{"c":17,"t":1941,"g":106,"l2":63,"l1":87,"u1":129,"u2":157},{"c":17,"t":1942,"g":72,"l2":33,"l1":54,"u1":94,"u2":119},{"c":17,"t":1943,"g":42,"l2":6,"l1":26,"u1":62,"u2":85},{"c":17,"t":1944.2,"g":13,"l2":0,"l1":0,"u1":32,"u2":53},
{"c":18,"t":1944.2,"g":10,"l2":0,"l1":0,"u1":29,"u2":49},{"c":18,"t":1945,"g":30,"l2":0,"l1":15,"u1":50,"u2":72},{"c":18,"t":1946,"g":115,"l2":72,"l1":95,"u1":139,"u2":167},{"c":18,"t":1947,"g":190,"l2":139,"l1":167,"u1":218,"u2":251},{"c":18,"t":1947.8,"g":207,"l2":154,"l1":183,"u1":235,"u2":270},{"c":18,"t":1948.5,"g":200,"l2":148,"l1":176,"u1":228,"u2":262},{"c":18,"t":1949,"g":188,"l2":137,"l1":165,"u1":215,"u2":249},{"c":18,"t":1950,"g":150,"l2":103,"l1":129,"u1":176,"u2":206},{"c":18,"t":1951,"g":105,"l2":63,"l1":86,"u1":128,"u2":156},{"c":18,"t":1952,"g":66,"l2":27,"l1":49,"u1":87,"u2":112},{"c":18,"t":1953,"g":33,"l2":0,"l1":17,"u1":53,"u2":75},{"c":18,"t":1954.3,"g":4,"l2":0,"l1":0,"u1":22,"u2":42},
{"c":19,"t":1954.3,"g":1,"l2":0,"l1":0,"u1":19,"u2":39},{"c":19,"t":1955,"g":25,"l2":0,"l1":10,"u1":44,"u2":66},{"c":19,"t":1955.5,"g":80,"l2":40,"l1":62,"u1":102,"u2":128},{"c":19,"t":1956,"g":160,"l2":112,"l1":138,"u1":186,"u2":217},{"c":19,"t":1956.5,"g":230,"l2":175,"l1":205,"u1":260,"u2":296},{"c":19,"t":1957,"g":268,"l2":209,"l1":241,"u1":299,"u2":338},{"c":19,"t":1957.3,"g":272,"l2":213,"l1":244,"u1":304,"u2":343},{"c":19,"t":1958,"g":258,"l2":200,"l1":231,"u1":289,"u2":327},{"c":19,"t":1959,"g":215,"l2":162,"l1":190,"u1":244,"u2":279},{"c":19,"t":1960,"g":160,"l2":112,"l1":138,"u1":186,"u2":217},{"c":19,"t":1961,"g":115,"l2":72,"l1":95,"u1":139,"u2":167},{"c":19,"t":1962,"g":78,"l2":38,"l1":60,"u1":100,"u2":125},{"c":19,"t":1963,"g":47,"l2":10,"l1":31,"u1":67,"u2":91},{"c":19,"t":1964,"g":22,"l2":0,"l1":7,"u1":41,"u2":63},{"c":19,"t":1964.9,"g":9,"l2":0,"l1":0,"u1":27,"u2":48},
{"c":20,"t":1964.9,"g":6,"l2":0,"l1":0,"u1":24,"u2":45},{"c":20,"t":1965.5,"g":20,"l2":0,"l1":5,"u1":39,"u2":60},{"c":20,"t":1966,"g":38,"l2":2,"l1":22,"u1":58,"u2":81},{"c":20,"t":1966.5,"g":70,"l2":31,"l1":53,"u1":92,"u2":116},{"c":20,"t":1967,"g":105,"l2":63,"l1":86,"u1":128,"u2":156},{"c":20,"t":1967.5,"g":135,"l2":90,"l1":114,"u1":160,"u2":189},{"c":20,"t":1968,"g":152,"l2":105,"l1":130,"u1":178,"u2":208},{"c":20,"t":1968.9,"g":161,"l2":113,"l1":139,"u1":187,"u2":218},{"c":20,"t":1969.5,"g":158,"l2":110,"l1":136,"u1":184,"u2":215},{"c":20,"t":1970,"g":150,"l2":103,"l1":129,"u1":176,"u2":206},{"c":20,"t":1971,"g":125,"l2":81,"l1":105,"u1":149,"u2":178},{"c":20,"t":1972,"g":92,"l2":51,"l1":73,"u1":115,"u2":141},{"c":20,"t":1973,"g":65,"l2":27,"l1":48,"u1":86,"u2":111},{"c":20,"t":1974,"g":42,"l2":6,"l1":26,"u1":62,"u2":85},{"c":20,"t":1975,"g":22,"l2":0,"l1":7,"u1":41,"u2":63},{"c":20,"t":1976.5,"g":3,"l2":0,"l1":0,"u1":21,"u2":41},
{"c":21,"t":1976.5,"g":3,"l2":0,"l1":0,"u1":21,"u2":41},{"c":21,"t":1977,"g":30,"l2":0,"l1":15,"u1":50,"u2":72},{"c":21,"t":1977.5,"g":80,"l2":40,"l1":62,"u1":102,"u2":128},{"c":21,"t":1978,"g":140,"l2":94,"l1":119,"u1":165,"u2":195},{"c":21,"t":1978.5,"g":190,"l2":139,"l1":167,"u1":218,"u2":251},{"c":21,"t":1979,"g":222,"l2":168,"l1":197,"u1":251,"u2":287},{"c":21,"t":1979.7,"g":232,"l2":177,"l1":206,"u1":262,"u2":298},{"c":21,"t":1980.5,"g":222,"l2":168,"l1":197,"u1":251,"u2":287},{"c":21,"t":1981,"g":208,"l2":155,"l1":184,"u1":236,"u2":271},{"c":21,"t":1982,"g":172,"l2":123,"l1":149,"u1":199,"u2":231},{"c":21,"t":1983,"g":130,"l2":85,"l1":110,"u1":155,"u2":184},{"c":21,"t":1984,"g":88,"l2":47,"l1":70,"u1":110,"u2":137},{"c":21,"t":1985,"g":50,"l2":13,"l1":34,"u1":71,"u2":94},{"c":21,"t":1986,"g":22,"l2":0,"l1":7,"u1":41,"u2":63},{"c":21,"t":1986.7,"g":8,"l2":0,"l1":0,"u1":26,"u2":47},
{"c":22,"t":1986.7,"g":6,"l2":0,"l1":0,"u1":24,"u2":45},{"c":22,"t":1987,"g":22,"l2":0,"l1":7,"u1":41,"u2":63},{"c":22,"t":1987.5,"g":70,"l2":31,"l1":53,"u1":92,"u2":116},{"c":22,"t":1988,"g":130,"l2":85,"l1":110,"u1":155,"u2":184},{"c":22,"t":1988.5,"g":178,"l2":128,"l1":155,"u1":205,"u2":237},{"c":22,"t":1989,"g":203,"l2":151,"l1":179,"u1":231,"u2":265},{"c":22,"t":1990,"g":214,"l2":161,"l1":189,"u1":243,"u2":278},{"c":22,"t":1990.5,"g":212,"l2":159,"l1":187,"u1":241,"u2":275},{"c":22,"t":1991,"g":203,"l2":151,"l1":179,"u1":231,"u2":265},{"c":22,"t":1992,"g":175,"l2":126,"l1":152,"u1":202,"u2":234},{"c":22,"t":1993,"g":132,"l2":87,"l1":111,"u1":157,"u2":186},{"c":22,"t":1994,"g":90,"l2":49,"l1":72,"u1":113,"u2":139},{"c":22,"t":1995,"g":52,"l2":15,"l1":35,"u1":73,"u2":96},{"c":22,"t":1996,"g":24,"l2":0,"l1":9,"u1":43,"u2":65},{"c":22,"t":1996.4,"g":13,"l2":0,"l1":0,"u1":32,"u2":53},
{"c":23,"t":1996.4,"g":8,"l2":0,"l1":0,"u1":26,"u2":47},{"c":23,"t":1997,"g":25,"l2":0,"l1":10,"u1":44,"u2":66},{"c":23,"t":1998,"g":75,"l2":36,"l1":57,"u1":97,"u2":122},{"c":23,"t":1999,"g":130,"l2":85,"l1":110,"u1":155,"u2":184},{"c":23,"t":2000,"g":168,"l2":119,"l1":146,"u1":194,"u2":226},{"c":23,"t":2000.6,"g":177,"l2":127,"l1":154,"u1":204,"u2":236},{"c":23,"t":2001.5,"g":170,"l2":121,"l1":148,"u1":197,"u2":228},{"c":23,"t":2002,"g":160,"l2":112,"l1":138,"u1":186,"u2":217},{"c":23,"t":2003,"g":130,"l2":85,"l1":110,"u1":155,"u2":184},{"c":23,"t":2004,"g":98,"l2":56,"l1":79,"u1":121,"u2":148},{"c":23,"t":2005,"g":68,"l2":29,"l1":51,"u1":89,"u2":114},{"c":23,"t":2006,"g":42,"l2":6,"l1":26,"u1":62,"u2":85},{"c":23,"t":2007,"g":20,"l2":0,"l1":5,"u1":39,"u2":60},{"c":23,"t":2008,"g":6,"l2":0,"l1":0,"u1":24,"u2":45},{"c":23,"t":2008.9,"g":1,"l2":0,"l1":0,"u1":19,"u2":39},
{"c":24,"t":2008.9,"g":1,"l2":0,"l1":0,"u1":19,"u2":39},{"c":24,"t":2009.5,"g":8,"l2":0,"l1":0,"u1":26,"u2":47},{"c":24,"t":2010,"g":20,"l2":0,"l1":5,"u1":39,"u2":60},{"c":24,"t":2011,"g":45,"l2":9,"l1":29,"u1":65,"u2":88},{"c":24,"t":2012,"g":78,"l2":38,"l1":60,"u1":100,"u2":125},{"c":24,"t":2013,"g":102,"l2":60,"l1":83,"u1":125,"u2":152},{"c":24,"t":2013.6,"g":107,"l2":64,"l1":88,"u1":130,"u2":158},{"c":24,"t":2014.5,"g":102,"l2":60,"l1":83,"u1":125,"u2":152},{"c":24,"t":2015,"g":95,"l2":54,"l1":76,"u1":118,"u2":144},{"c":24,"t":2016,"g":70,"l2":31,"l1":53,"u1":92,"u2":116},{"c":24,"t":2017,"g":43,"l2":7,"l1":27,"u1":63,"u2":86},{"c":24,"t":2018,"g":23,"l2":0,"l1":8,"u1":42,"u2":64},{"c":24,"t":2019,"g":10,"l2":0,"l1":0,"u1":29,"u2":49},{"c":24,"t":2019.9,"g":4,"l2":0,"l1":0,"u1":22,"u2":42},
{"c":25,"t":2019.9,"g":2,"l2":0,"l1":0,"u1":20,"u2":40},{"c":25,"t":2020.5,"g":12,"l2":0,"l1":0,"u1":31,"u2":51},{"c":25,"t":2021,"g":35,"l2":0,"l1":19,"u1":55,"u2":77},{"c":25,"t":2021.5,"g":65,"l2":27,"l1":48,"u1":86,"u2":111},{"c":25,"t":2022,"g":95,"l2":54,"l1":76,"u1":118,"u2":144},{"c":25,"t":2022.5,"g":125,"l2":81,"l1":105,"u1":149,"u2":178},{"c":25,"t":2023,"g":150,"l2":103,"l1":129,"u1":176,"u2":206},{"c":25,"t":2023.5,"g":164,"l2":116,"l1":142,"u1":190,"u2":230},{"c":25,"t":2024.2,"g":169,"l2":120,"l1":147,"u1":195,"u2":235},{"c":25,"t":2025,"g":160,"l2":112,"l1":138,"u1":186,"u2":224},{"c":25,"t":2025.5,"g":145,"l2":99,"l1":124,"u1":170,"u2":203},{"c":25,"t":2026,"g":126,"l2":81,"l1":106,"u1":150,"u2":179},{"c":25,"t":2027,"g":92,"l2":51,"l1":73,"u1":115,"u2":141},{"c":25,"t":2028,"g":62,"l2":24,"l1":45,"u1":83,"u2":107},{"c":25,"t":2029,"g":40,"l2":4,"l1":24,"u1":60,"u2":83},{"c":25,"t":2030,"g":22,"l2":0,"l1":7,"u1":41,"u2":63},{"c":25,"t":2031,"g":11,"l2":0,"l1":0,"u1":30,"u2":50},{"c":25,"t":2032,"g":5,"l2":0,"l1":0,"u1":23,"u2":44},{"c":25,"t":2033,"g":2,"l2":0,"l1":0,"u1":19,"u2":38},{"c":25,"t":2035,"g":0,"l2":0,"l1":0,"u1":13,"u2":31}],
"swpc": [{"t":2021.5,"v":38,"lo":32,"hi":45},{"t":2022,"v":47,"lo":39,"hi":55},{"t":2022.5,"v":58,"lo":49,"hi":67},{"t":2023,"v":70,"lo":61,"hi":80},{"t":2023.5,"v":84,"lo":74,"hi":94},{"t":2024,"v":96,"lo":86,"hi":106},{"t":2024.5,"v":106,"lo":96,"hi":117},{"t":2025,"v":113,"lo":103,"hi":124},{"t":2025.5,"v":115,"lo":105,"hi":126},{"t":2026,"v":112,"lo":102,"hi":123},{"t":2026.5,"v":105,"lo":95,"hi":116},{"t":2027,"v":94,"lo":84,"hi":104},{"t":2028,"v":70,"lo":61,"hi":80},{"t":2029,"v":50,"lo":42,"hi":59},{"t":2030,"v":34,"lo":27,"hi":42},{"t":2031,"v":23,"lo":17,"hi":30},{"t":2032,"v":16,"lo":10,"hi":23},{"t":2033,"v":11,"lo":5,"hi":18},{"t":2034,"v":8,"lo":3,"hi":14},{"t":2035,"v":6,"lo":2,"hi":12}]
},
"vconcat": [
{
"width": 760, "height": 222,
"encoding": {"x": {"field": "t", "type": "quantitative", "scale": {"domain": [1749, 1844], "nice": false, "zero": false}, "axis": null}},
"layer": [
{"data": {"name": "pred"}, "transform": [{"filter": "datum.c <= 8"}],
 "mark": {"type": "area", "interpolate": "monotone", "clip": true, "opacity": 1, "color": "#80d9ff"},
 "encoding": {
  "y": {"field": "l2", "type": "quantitative", "scale": {"domain": [1.6, 323], "nice": false, "zero": false}, "axis": null},
  "y2": {"field": "u2"}, "detail": {"field": "c"}}},
{"data": {"name": "pred"}, "transform": [{"filter": "datum.c <= 8"}],
 "mark": {"type": "area", "interpolate": "monotone", "clip": true, "opacity": 1, "color": "#00b3ff"},
 "encoding": {
  "y": {"field": "l1", "type": "quantitative", "scale": {"domain": [1.6, 323], "nice": false, "zero": false}, "axis": null},
  "y2": {"field": "u1"}, "detail": {"field": "c"}}},
{"data": {"name": "bounds"}, "transform": [{"filter": "datum.t > 1749 && datum.t < 1844"}],
 "mark": {"type": "rule", "color": "#6b6b6b", "strokeDash": [6, 3], "strokeWidth": 1}, "encoding": {}},
{"data": {"name": "ssn"}, "transform": [{"filter": "datum.t <= 1845"}],
 "mark": {"type": "line", "clip": true, "strokeWidth": 2, "color": "#000000"},
 "encoding": {
  "x": {"field": "t", "type": "quantitative", "scale": {"domain": [1749, 1844], "nice": false, "zero": false},
        "axis": {"values": [1750, 1760, 1770, 1780, 1790, 1800, 1810, 1820, 1830, 1840], "format": "d", "title": "Time"}},
  "y": {"field": "v", "type": "quantitative", "scale": {"domain": [1.6, 323], "nice": false, "zero": false},
        "axis": {"values": [50, 100, 150, 200, 250, 300], "title": "SSN"}}}},
{"data": {"name": "fit"}, "transform": [{"filter": "datum.c <= 8"}],
 "mark": {"type": "line", "clip": true, "strokeWidth": 2, "interpolate": "monotone", "color": "#ff0000"},
 "encoding": {
  "x": {"field": "t", "type": "quantitative", "scale": {"domain": [1749, 1844], "nice": false, "zero": false},
        "axis": {"orient": "top", "values": [1750, 1760, 1770, 1780, 1790, 1800, 1810, 1820, 1830, 1840], "labels": false, "title": null}},
  "y": {"field": "v", "type": "quantitative", "scale": {"domain": [1.6, 323], "nice": false, "zero": false},
        "axis": {"orient": "right", "values": [50, 100, 150, 200, 250, 300], "labels": false, "title": null}},
  "detail": {"field": "c"}}},
{"data": {"name": "pred"}, "transform": [{"filter": "datum.c <= 8"}],
 "mark": {"type": "line", "clip": true, "strokeWidth": 2, "interpolate": "monotone", "color": "#00ff00"},
 "encoding": {
  "y": {"field": "g", "type": "quantitative", "scale": {"domain": [1.6, 323], "nice": false, "zero": false}, "axis": null},
  "detail": {"field": "c"}}},
{"data": {"name": "labels"}, "transform": [{"filter": "datum.t < 1844"}],
 "mark": {"type": "text", "fontSize": 12.5, "color": "#000000", "font": "Liberation Sans"},
 "encoding": {
  "y": {"field": "v", "type": "quantitative", "scale": {"domain": [1.6, 323], "nice": false, "zero": false}, "axis": null},
  "text": {"field": "n"}}},
{"data": {"name": "labels"}, "transform": [{"filter": "false"}],
 "mark": {"type": "point", "opacity": 1, "filled": false},
 "encoding": {
  "fill": {"datum": "13-month smoothed SSN",
   "scale": {"domain": ["13-month smoothed SSN", "4-parameter fit", "predicted cycles", "2σ confidence limits", "1σ confidence limits", "cycle 25 prediction", "SWPC prediction", "SWPC uncertainty bounds"],
             "range": ["transparent", "transparent", "transparent", "#80d9ff", "#00b3ff", "transparent", "transparent", "#edb120"]},
   "legend": {"orient": "none", "legendX": 346, "legendY": 2, "title": null, "padding": 4, "strokeColor": "#262626", "fillColor": "white", "labelFontSize": 12, "labelColor": "#000000", "labelFont": "Liberation Sans", "symbolSize": 100, "symbolStrokeWidth": 2, "symbolOpacity": 1, "labelOffset": 17, "rowPadding": -2.9, "gridAlign": "all", "labelLimit": 300}},
  "stroke": {"datum": "13-month smoothed SSN",
   "scale": {"domain": ["13-month smoothed SSN", "4-parameter fit", "predicted cycles", "2σ confidence limits", "1σ confidence limits", "cycle 25 prediction", "SWPC prediction", "SWPC uncertainty bounds"],
             "range": ["#000000", "#ff0000", "#00ff00", "transparent", "transparent", "#ff00ff", "#7e2f8e", "transparent"]},
   "legend": {"orient": "none", "legendX": 346, "legendY": 2, "title": null, "padding": 4, "strokeColor": "#262626", "fillColor": "white", "labelFontSize": 12, "labelColor": "#000000", "labelFont": "Liberation Sans", "symbolSize": 100, "symbolStrokeWidth": 2, "symbolOpacity": 1, "labelOffset": 17, "rowPadding": -2.9, "gridAlign": "all", "labelLimit": 300}},
  "shape": {"datum": "13-month smoothed SSN",
   "scale": {"domain": ["13-month smoothed SSN", "4-parameter fit", "predicted cycles", "2σ confidence limits", "1σ confidence limits", "cycle 25 prediction", "SWPC prediction", "SWPC uncertainty bounds"],
             "range": ["M-1,0H4.6", "M-1,0H4.6", "M-1,0H4.6", "M-1,-1H4.6V1H-1Z", "M-1,-1H4.6V1H-1Z", "M-1,0H4.6", "M-1,0H4.6", "M-1,-1H4.6V1H-1Z"]},
   "legend": {"orient": "none", "legendX": 346, "legendY": 2, "title": null, "padding": 4, "strokeColor": "#262626", "fillColor": "white", "labelFontSize": 12, "labelColor": "#000000", "labelFont": "Liberation Sans", "symbolSize": 100, "symbolStrokeWidth": 2, "symbolOpacity": 1, "labelOffset": 17, "rowPadding": -2.9, "gridAlign": "all", "labelLimit": 300}},
  "strokeDash": {"datum": "13-month smoothed SSN",
   "scale": {"domain": ["13-month smoothed SSN", "4-parameter fit", "predicted cycles", "2σ confidence limits", "1σ confidence limits", "cycle 25 prediction", "SWPC prediction", "SWPC uncertainty bounds"],
             "range": [[1, 0], [1, 0], [1, 0], [1, 0], [1, 0], [1, 0], [4, 2, 1, 2], [1, 0]]},
   "legend": {"orient": "none", "legendX": 346, "legendY": 2, "title": null, "padding": 4, "strokeColor": "#262626", "fillColor": "white", "labelFontSize": 12, "labelColor": "#000000", "labelFont": "Liberation Sans", "symbolSize": 100, "symbolStrokeWidth": 2, "symbolOpacity": 1, "labelOffset": 17, "rowPadding": -2.9, "gridAlign": "all", "labelLimit": 300}}}}
],
"resolve": {"axis": {"x": "independent", "y": "independent"}}
},
{
"width": 760, "height": 222,
"encoding": {"x": {"field": "t", "type": "quantitative", "scale": {"domain": [1843.7, 1933.7], "nice": false, "zero": false}, "axis": null}},
"layer": [
{"data": {"name": "pred"}, "transform": [{"filter": "datum.c >= 9 && datum.c <= 16"}],
 "mark": {"type": "area", "interpolate": "monotone", "clip": true, "opacity": 1, "color": "#80d9ff"},
 "encoding": {
  "y": {"field": "l2", "type": "quantitative", "scale": {"domain": [0, 320], "nice": false, "zero": false}, "axis": null},
  "y2": {"field": "u2"}, "detail": {"field": "c"}}},
{"data": {"name": "pred"}, "transform": [{"filter": "datum.c >= 9 && datum.c <= 16"}],
 "mark": {"type": "area", "interpolate": "monotone", "clip": true, "opacity": 1, "color": "#00b3ff"},
 "encoding": {
  "y": {"field": "l1", "type": "quantitative", "scale": {"domain": [0, 320], "nice": false, "zero": false}, "axis": null},
  "y2": {"field": "u1"}, "detail": {"field": "c"}}},
{"data": {"name": "bounds"}, "transform": [{"filter": "datum.t > 1843.7 && datum.t < 1933.7"}],
 "mark": {"type": "rule", "color": "#6b6b6b", "strokeDash": [6, 3], "strokeWidth": 1}, "encoding": {}},
{"data": {"name": "ssn"}, "transform": [{"filter": "datum.t >= 1843 && datum.t <= 1935"}],
 "mark": {"type": "line", "clip": true, "strokeWidth": 2, "color": "#000000"},
 "encoding": {
  "x": {"field": "t", "type": "quantitative", "scale": {"domain": [1843.7, 1933.7], "nice": false, "zero": false},
        "axis": {"values": [1850, 1860, 1870, 1880, 1890, 1900, 1910, 1920, 1930], "format": "d", "title": "Time"}},
  "y": {"field": "v", "type": "quantitative", "scale": {"domain": [0, 320], "nice": false, "zero": false},
        "axis": {"values": [0, 50, 100, 150, 200, 250, 300], "title": "SSN"}}}},
{"data": {"name": "fit"}, "transform": [{"filter": "datum.c >= 9 && datum.c <= 16"}],
 "mark": {"type": "line", "clip": true, "strokeWidth": 2, "interpolate": "monotone", "color": "#ff0000"},
 "encoding": {
  "x": {"field": "t", "type": "quantitative", "scale": {"domain": [1843.7, 1933.7], "nice": false, "zero": false},
        "axis": {"orient": "top", "values": [1850, 1860, 1870, 1880, 1890, 1900, 1910, 1920, 1930], "labels": false, "title": null}},
  "y": {"field": "v", "type": "quantitative", "scale": {"domain": [0, 320], "nice": false, "zero": false},
        "axis": {"orient": "right", "values": [0, 50, 100, 150, 200, 250, 300], "labels": false, "title": null}},
  "detail": {"field": "c"}}},
{"data": {"name": "pred"}, "transform": [{"filter": "datum.c >= 9 && datum.c <= 16"}],
 "mark": {"type": "line", "clip": true, "strokeWidth": 2, "interpolate": "monotone", "color": "#00ff00"},
 "encoding": {
  "y": {"field": "g", "type": "quantitative", "scale": {"domain": [0, 320], "nice": false, "zero": false}, "axis": null},
  "detail": {"field": "c"}}},
{"data": {"name": "labels"}, "transform": [{"filter": "datum.t > 1844 && datum.t < 1933.7"}],
 "mark": {"type": "text", "fontSize": 12.5, "color": "#000000", "font": "Liberation Sans"},
 "encoding": {
  "y": {"field": "v", "type": "quantitative", "scale": {"domain": [0, 320], "nice": false, "zero": false}, "axis": null},
  "text": {"field": "n"}}}
],
"resolve": {"axis": {"x": "independent", "y": "independent"}}
},
{
"width": 760, "height": 221,
"encoding": {"x": {"field": "t", "type": "quantitative", "scale": {"domain": [1933.7, 2035], "nice": false, "zero": false}, "axis": null}},
"layer": [
{"data": {"name": "pred"}, "transform": [{"filter": "datum.c >= 17"}],
 "mark": {"type": "area", "interpolate": "monotone", "clip": true, "opacity": 1, "color": "#80d9ff"},
 "encoding": {
  "y": {"field": "l2", "type": "quantitative", "scale": {"domain": [0, 350], "nice": false, "zero": false}, "axis": null},
  "y2": {"field": "u2"}, "detail": {"field": "c"}}},
{"data": {"name": "pred"}, "transform": [{"filter": "datum.c >= 17"}],
 "mark": {"type": "area", "interpolate": "monotone", "clip": true, "opacity": 1, "color": "#00b3ff"},
 "encoding": {
  "y": {"field": "l1", "type": "quantitative", "scale": {"domain": [0, 350], "nice": false, "zero": false}, "axis": null},
  "y2": {"field": "u1"}, "detail": {"field": "c"}}},
{"data": {"name": "swpc"},
 "mark": {"type": "area", "interpolate": "monotone", "clip": true, "opacity": 1, "color": "#edb120"},
 "encoding": {
  "y": {"field": "lo", "type": "quantitative", "scale": {"domain": [0, 350], "nice": false, "zero": false}, "axis": null},
  "y2": {"field": "hi"}}},
{"data": {"name": "bounds"}, "transform": [{"filter": "datum.t > 1933.7 && datum.t < 2035"}],
 "mark": {"type": "rule", "color": "#6b6b6b", "strokeDash": [6, 3], "strokeWidth": 1}, "encoding": {}},
{"data": {"name": "ssn"}, "transform": [{"filter": "datum.t >= 1933"}],
 "mark": {"type": "line", "clip": true, "strokeWidth": 2, "color": "#000000"},
 "encoding": {
  "x": {"field": "t", "type": "quantitative", "scale": {"domain": [1933.7, 2035], "nice": false, "zero": false},
        "axis": {"values": [1940, 1950, 1960, 1970, 1980, 1990, 2000, 2010, 2020, 2030], "format": "d", "title": "Time"}},
  "y": {"field": "v", "type": "quantitative", "scale": {"domain": [0, 350], "nice": false, "zero": false},
        "axis": {"values": [0, 50, 100, 150, 200, 250, 300], "title": "SSN"}}}},
{"data": {"name": "fit"}, "transform": [{"filter": "datum.c >= 17"}],
 "mark": {"type": "line", "clip": true, "strokeWidth": 2, "interpolate": "monotone", "color": "#ff0000"},
 "encoding": {
  "x": {"field": "t", "type": "quantitative", "scale": {"domain": [1933.7, 2035], "nice": false, "zero": false},
        "axis": {"orient": "top", "values": [1940, 1950, 1960, 1970, 1980, 1990, 2000, 2010, 2020, 2030], "labels": false, "title": null}},
  "y": {"field": "v", "type": "quantitative", "scale": {"domain": [0, 350], "nice": false, "zero": false},
        "axis": {"orient": "right", "values": [0, 50, 100, 150, 200, 250, 300], "labels": false, "title": null}},
  "detail": {"field": "c"}}},
{"data": {"name": "pred"}, "transform": [{"filter": "datum.c >= 17 && datum.c <= 24"}],
 "mark": {"type": "line", "clip": true, "strokeWidth": 2, "interpolate": "monotone", "color": "#00ff00"},
 "encoding": {
  "y": {"field": "g", "type": "quantitative", "scale": {"domain": [0, 350], "nice": false, "zero": false}, "axis": null},
  "detail": {"field": "c"}}},
{"data": {"name": "pred"}, "transform": [{"filter": "datum.c == 25"}],
 "mark": {"type": "line", "clip": true, "strokeWidth": 2, "interpolate": "monotone", "color": "#ff00ff"},
 "encoding": {
  "y": {"field": "g", "type": "quantitative", "scale": {"domain": [0, 350], "nice": false, "zero": false}, "axis": null}}},
{"data": {"name": "swpc"},
 "mark": {"type": "line", "clip": true, "strokeWidth": 2, "interpolate": "monotone", "color": "#7e2f8e", "strokeDash": [4, 2, 1, 2]},
 "encoding": {
  "y": {"field": "v", "type": "quantitative", "scale": {"domain": [0, 350], "nice": false, "zero": false}, "axis": null}}},
{"data": {"name": "labels"}, "transform": [{"filter": "datum.t > 1933.7"}],
 "mark": {"type": "text", "fontSize": 12.5, "color": "#000000", "font": "Liberation Sans"},
 "encoding": {
  "y": {"field": "v", "type": "quantitative", "scale": {"domain": [0, 350], "nice": false, "zero": false}, "axis": null},
  "text": {"field": "n"}}}
],
"resolve": {"axis": {"x": "independent", "y": "independent"}}
}
],
"resolve": {"scale": {"fill": "independent", "stroke": "independent", "shape": "independent", "strokeDash": "independent"}},
"config": {
"font": "Liberation Sans",
"background": "white",
"view": {"stroke": "#8f8f8f", "strokeWidth": 1},
"axis": {"grid": false, "domain": false, "tickSize": -7, "tickColor": "#262626", "tickWidth": 1,
  "labelFont": "Liberation Sans", "labelFontSize": 12, "labelColor": "#262626", "labelFlush": false,
  "titleFont": "Liberation Sans", "titleFontSize": 13, "titleFontWeight": "normal", "titleColor": "#262626"},
"axisX": {"labelPadding": 11, "titlePadding": 1},
"axisY": {"labelPadding": 14, "titlePadding": 5}
}
}
